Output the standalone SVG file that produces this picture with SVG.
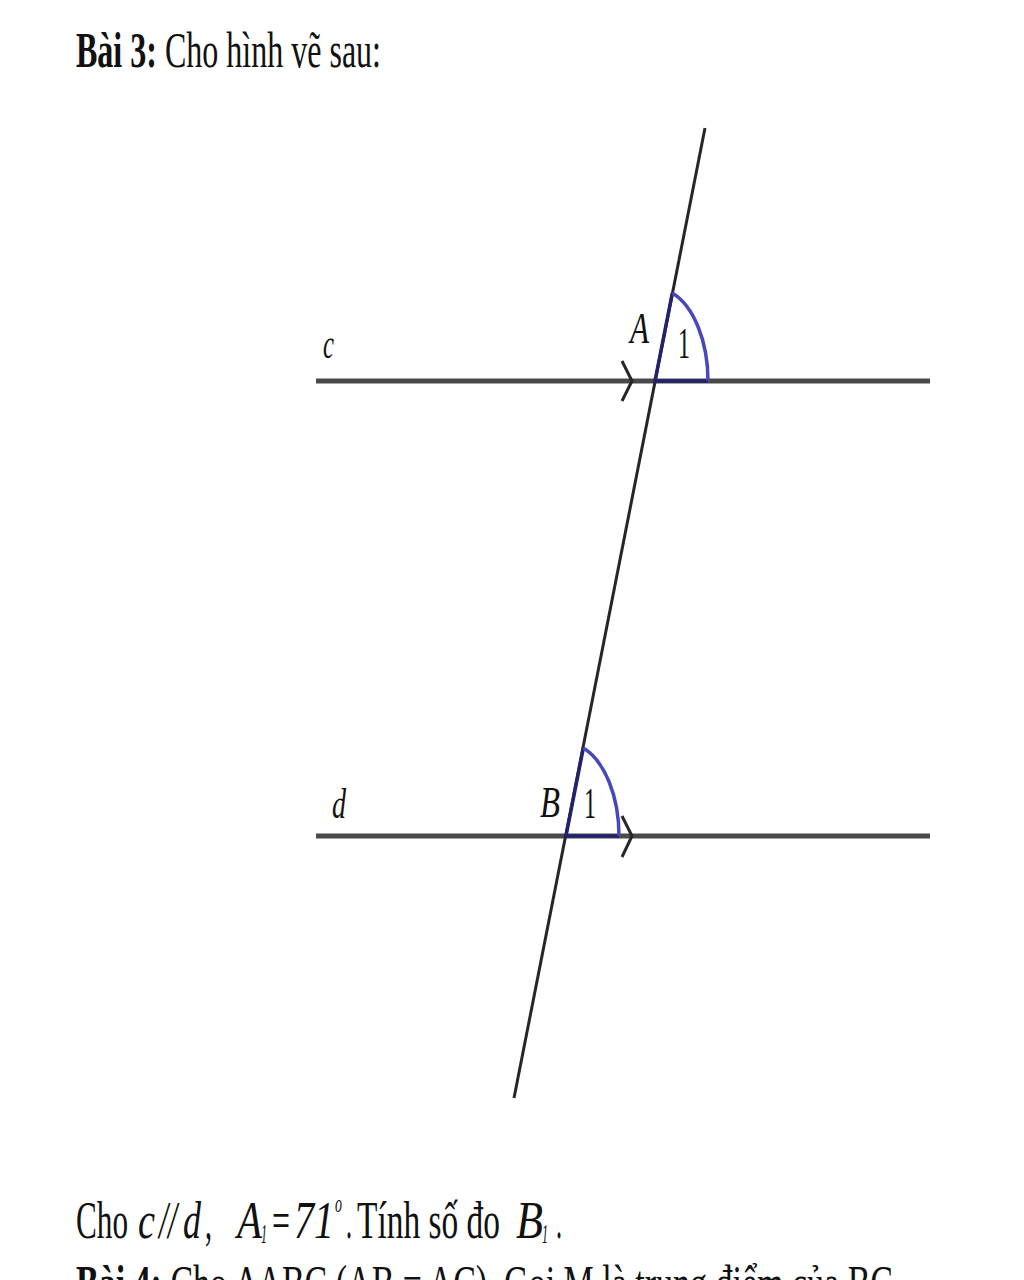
<svg xmlns="http://www.w3.org/2000/svg" width="1024" height="1280" viewBox="0 0 1024 1280">
<style>
text{font-family:"Liberation Serif","Times New Roman",serif;fill:#111}
.it{font-style:italic}
.par{stroke:#4a4a4a;stroke-width:5;fill:none;stroke-linecap:butt}
.tr{stroke:#262626;stroke-width:3;fill:none}
.chev{stroke:#262626;stroke-width:3;fill:none;stroke-linejoin:miter}
.ang{stroke:#4848b8;stroke-width:3.5;fill:none}
.angline{stroke:#22226e;stroke-width:3.5;fill:none}
</style>
<rect width="1024" height="1280" fill="#ffffff"/>
<g id="title">
<text x="76" y="67" font-size="50" textLength="305" lengthAdjust="spacingAndGlyphs"><tspan font-weight="bold">Bài 3:</tspan> Cho hình vẽ sau:</text>
</g>
<g id="connectors">
<line id="line-c" class="par" x1="316" y1="381" x2="930" y2="381"/>
<line id="line-d" class="par" x1="316" y1="836" x2="930" y2="836"/>
<line id="transversal" class="tr" x1="705" y1="128" x2="514" y2="1098"/>
<polyline class="chev" points="622,361 632,381 622,401"/>
<polyline class="chev" points="622,816 632,836 622,857"/>
</g>
<g id="angle-A">
<path class="angline" d="M672.3,293.1 L655,381 L708,381"/>
<path class="ang" d="M672.3,293.1 A53,93 0 0 1 708,381"/>
<text class="it" x="630" y="343" font-size="44" textLength="19" lengthAdjust="spacingAndGlyphs">A</text>
<text x="678" y="358" font-size="44" textLength="12" lengthAdjust="spacingAndGlyphs">1</text>
</g>
<g id="angle-B">
<path class="angline" d="M583.3,748.1 L566,836 L619,836"/>
<path class="ang" d="M583.3,748.1 A53,93 0 0 1 619,836"/>
<text class="it" x="540" y="817" font-size="44" textLength="20" lengthAdjust="spacingAndGlyphs">B</text>
<text x="584" y="818" font-size="44" textLength="12" lengthAdjust="spacingAndGlyphs">1</text>
</g>
<g id="label-c">
<text class="it" x="323" y="358" font-size="40" textLength="11" lengthAdjust="spacingAndGlyphs">c</text>
</g>
<g id="label-d">
<text class="it" x="332" y="818" font-size="42" textLength="14" lengthAdjust="spacingAndGlyphs">d</text>
</g>
<g id="question" font-size="52">
<text x="76" y="1238" textLength="52" lengthAdjust="spacingAndGlyphs">Cho</text>
<text class="it" x="138" y="1238" textLength="17" lengthAdjust="spacingAndGlyphs">c</text>
<text class="it" x="159" y="1238" textLength="18" lengthAdjust="spacingAndGlyphs">//</text>
<text class="it" x="183" y="1238" textLength="18" lengthAdjust="spacingAndGlyphs">d</text>
<text x="205" y="1238" textLength="7" lengthAdjust="spacingAndGlyphs">,</text>
<text class="it" x="237" y="1238" textLength="25" lengthAdjust="spacingAndGlyphs">A</text>
<text class="it" x="261" y="1243" font-size="28" textLength="6" lengthAdjust="spacingAndGlyphs">1</text>
<text x="272" y="1238" textLength="18" lengthAdjust="spacingAndGlyphs">=</text>
<text class="it" x="294" y="1238" textLength="40" lengthAdjust="spacingAndGlyphs">71</text>
<text class="it" x="335" y="1212" font-size="26" textLength="7" lengthAdjust="spacingAndGlyphs">o</text>
<text x="346" y="1238" textLength="6" lengthAdjust="spacingAndGlyphs">.</text>
<text x="357" y="1238" textLength="143" lengthAdjust="spacingAndGlyphs">Tính số đo</text>
<text class="it" x="516" y="1238" textLength="27" lengthAdjust="spacingAndGlyphs">B</text>
<text class="it" x="542" y="1243" font-size="28" textLength="6" lengthAdjust="spacingAndGlyphs">1</text>
<text x="556" y="1238" textLength="6" lengthAdjust="spacingAndGlyphs">.</text>
</g>
<g id="next-exercise">
<text x="76" y="1300" font-size="50" textLength="817" lengthAdjust="spacingAndGlyphs"><tspan font-weight="bold">Bài 4:</tspan> Cho ΔABC (AB = AC). Gọi M là trung điểm của BC</text>
</g>
</svg>
